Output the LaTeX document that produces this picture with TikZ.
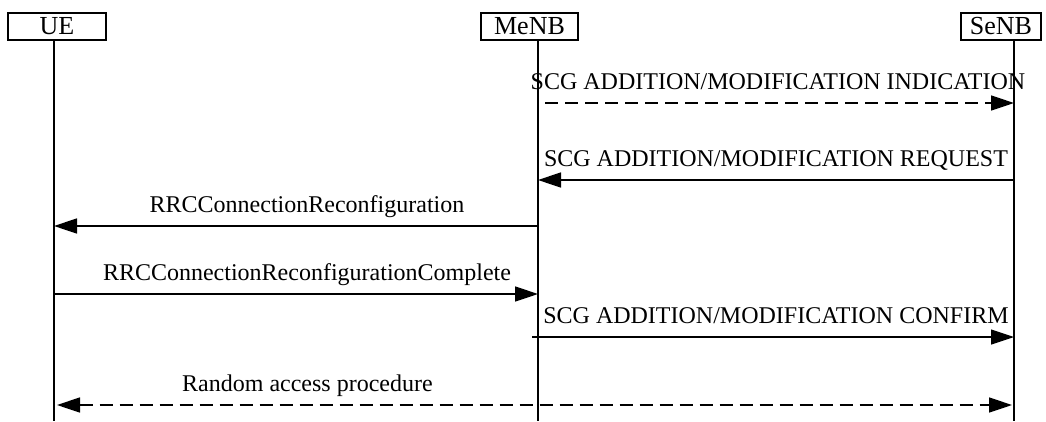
\documentclass[tikz,border=0pt]{standalone}
\usepackage{fontspec}
\setmainfont{Liberation Serif}
\usetikzlibrary{arrows.meta}
\tikzset{
  entity/.style={draw, line width=1.4pt, minimum height=27pt, inner sep=0pt,
    font=\fontsize{26}{28}\selectfont},
  lifeline/.style={line width=1.6pt},
  msg/.style={line width=1.5pt, -{Triangle[length=23pt,width=15pt]}},
  dmsg/.style={msg, dash pattern=on 13pt off 7pt},
  lbl/.style={font=\fontsize{24}{26}\selectfont, anchor=base, inner sep=0pt, yshift=14pt}
}
\begin{document}
\begin{tikzpicture}[x=1pt,y=-1pt]
  \useasboundingbox (0,0) rectangle (1046,421);
  % entities
  \node[entity, minimum width=98pt] (ue) at (57,26.5) {UE};
  \node[entity, minimum width=97pt] (menb) at (529.5,26.5) {MeNB};
  \node[entity, minimum width=80pt] (senb) at (1001,26.5) {SeNB};
  % lifelines and message points
  \foreach \n/\x in {ue/54,menb/538,senb/1014}{
    \coordinate (\n-top) at (\x,40);
    \coordinate (\n-bot) at (\x,421);
    \draw[lifeline] (\n-top) -- (\n-bot);
    \foreach \i/\y in {1/103,2/180,3/226,4/294,5/337,6/405}
      \coordinate (\n-\i) at (\x,\y);
  }
  % messages
  \draw[dmsg, shorten <=7pt] (menb-1) -- node[lbl, xshift=2pt]{SCG ADDITION/MODIFICATION INDICATION} (senb-1);
  \draw[msg] (senb-2) -- node[lbl]{SCG ADDITION/MODIFICATION REQUEST} (menb-2);
  \draw[msg] (menb-3) -- node[lbl, xshift=11pt]{RRCConnectionReconfiguration} (ue-3);
  \draw[msg] (ue-4) -- node[lbl, xshift=11pt]{RRCConnectionReconfigurationComplete} (menb-4);
  \draw[msg, line width=1.2pt, shorten <=-6pt] (menb-5) -- node[lbl]{SCG ADDITION/MODIFICATION CONFIRM} (senb-5);
  \draw[dmsg, {Triangle[length=23pt,width=15pt]}-{Triangle[length=23pt,width=15pt]}, shorten <=3pt, shorten >=2pt]
    (ue-6) -- node[lbl, pos=0.264]{Random access procedure} (senb-6);
\end{tikzpicture}
\end{document}
